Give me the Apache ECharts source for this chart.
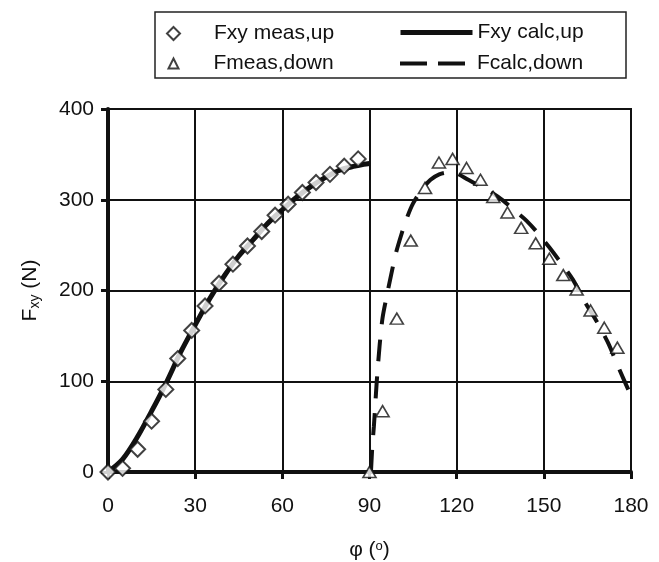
<!DOCTYPE html>
<html>
<head>
<meta charset="utf-8">
<script src="https://cdn.jsdelivr.net/npm/echarts@6/dist/echarts.min.js"></script>
<style>html,body{margin:0;padding:0;background:#fff;}#c{width:659px;height:562px;}</style>
</head>
<body>
<div id="c"></div>
<script>
// Measured (up)
const measUpX = [0, 5, 10.2, 15, 19.9, 24, 28.8, 33.4, 38.2, 43, 48, 52.9, 57.5, 62, 66.9, 71.6, 76.4, 81.3, 86.1];
const measUpY = [0, 4, 25, 56, 91, 125, 156, 183, 208, 229, 249, 265, 283, 295, 308, 319, 328, 337, 345];
// Calculated (up)
const calcUpX = [0, 5, 10, 15, 20, 25, 30, 35, 40, 45, 50, 55, 60, 65, 70, 75, 80, 85, 88, 90];
const calcUpY = [0, 14, 38, 67, 98, 132, 162, 191, 216, 238, 256, 274, 289, 303, 315, 325, 333, 337, 339, 340];
// Measured (down)
const measDownX = [90, 94.5, 99.4, 104.2, 109.1, 113.9, 118.6, 123.4, 128.2, 132.6, 137.5, 142.2, 147.2, 151.9, 156.7, 161.3, 166.1, 170.8, 175.3];
const measDownY = [0, 67, 169, 255, 313, 341, 345, 335, 322, 303, 286, 269, 252, 235, 217, 201, 178, 159, 137];
// Calculated (down)
const calcDownX = [90.5, 91, 91.5, 92, 92.5, 93.5, 94.5, 96, 97.5, 99, 101, 103, 105, 108, 111, 114, 117, 120, 124, 128, 132, 136, 140, 144, 148, 152, 156, 160, 164, 168, 172, 176, 180];
const calcDownY = [0, 30, 50, 75, 100, 140, 170, 195, 218, 240, 262, 281, 296, 311, 322, 328, 330, 329, 322, 315, 308, 299, 288, 277, 263, 247, 230, 212, 188, 167, 143, 113, 84];

const names = ['Fxy meas,up', 'Fxy calc,up', 'Fmeas,down', 'Fcalc,down'];
const xMin = 0, xMax = 180, xStep = 30;
const yMin = 0, yMax = 400, yStep = 100;

const zip = (a, b) => a.map((v, i) => [v, b[i]]);
const FONT = '"Liberation Sans", Arial, sans-serif';
const INK = '#111';

const chart = echarts.init(document.getElementById('c'), null, {renderer: 'canvas'});

function legendAt(name, left, top, w, h, extra) {
  return Object.assign({
    data: [name], left: left, top: top, padding: 0,
    itemWidth: w, itemHeight: h, selectedMode: false,
    textStyle: {fontSize: 21, fontFamily: FONT, color: INK}
  }, extra || {});
}

chart.setOption({
  animation: false,
  backgroundColor: '#fff',
  graphic: [{
    type: 'rect', shape: {x: 155, y: 12, width: 471, height: 66},
    style: {fill: 'none', stroke: '#222', lineWidth: 1.5}, z: 10
  }],
  legend: [
    legendAt(names[0], 166, 23, 13, 13, {textStyle: {fontSize: 21, fontFamily: FONT, color: INK, padding: [0, 0, 0, 29]}}),
    legendAt(names[1], 398, 22, 72, 14, {lineStyle: {width: 5}, itemStyle: {opacity: 0}}),
    legendAt(names[2], 167.5, 53, 10, 10, {textStyle: {fontSize: 21, fontFamily: FONT, color: INK, padding: [0, 0, 0, 30]}}),
    legendAt(names[3], 398, 53, 72, 14, {lineStyle: {width: 4, type: [27, 11]}, itemStyle: {opacity: 0}})
  ],
  grid: {left: 108, right: 28, top: 109, bottom: 90, show: true, borderColor: INK, borderWidth: 2,
         containLabel: false, outerBoundsMode: 'none'},
  xAxis: {
    type: 'value', min: xMin, max: xMax, interval: xStep,
    name: '{f|φ (}{p|o}{f|)}', nameLocation: 'middle', nameGap: 68,
    nameTextStyle: {rich: {
      f: {fontSize: 21, fontFamily: FONT, color: INK},
      p: {fontSize: 13, fontFamily: FONT, color: INK, verticalAlign: 'top', lineHeight: 10}
    }},
    axisLine: {show: true, onZero: false, lineStyle: {color: INK, width: 4}},
    axisTick: {show: true, inside: false, length: 7, lineStyle: {color: INK, width: 3}},
    axisLabel: {fontSize: 21, fontFamily: FONT, color: INK, margin: 24},
    splitLine: {show: true, lineStyle: {color: INK, width: 2}}
  },
  yAxis: {
    type: 'value', min: yMin, max: yMax, interval: yStep,
    name: '{f|F}{s|xy}{f| (N)}', nameLocation: 'middle', nameGap: 66, nameRotate: 90,
    nameTextStyle: {rich: {
      f: {fontSize: 21, fontFamily: FONT, color: INK, lineHeight: 24},
      s: {fontSize: 14, fontFamily: FONT, color: INK, verticalAlign: 'bottom', lineHeight: 11}
    }},
    axisLine: {show: true, lineStyle: {color: INK, width: 4}},
    axisTick: {show: true, inside: false, length: 7, lineStyle: {color: INK, width: 3}},
    axisLabel: {fontSize: 21, fontFamily: FONT, color: INK, margin: 14},
    splitLine: {show: true, lineStyle: {color: INK, width: 2}}
  },
  series: [
    {
      name: names[1], type: 'line', data: zip(calcUpX, calcUpY), showSymbol: false, symbol: 'none',
      smooth: 0.3, lineStyle: {color: INK, width: 5}, itemStyle: {color: INK}, z: 3
    },
    {
      name: names[3], type: 'line', data: zip(calcDownX, calcDownY), showSymbol: false, symbol: 'none',
      smooth: 0.3, lineStyle: {color: INK, width: 4, type: [22, 15]}, itemStyle: {color: INK}, z: 3
    },
    {
      name: names[0], type: 'scatter', data: zip(measUpX, measUpY), symbol: 'diamond', symbolSize: 15,
      itemStyle: {color: '#fff', borderColor: INK, borderWidth: 2}, z: 5
    },
    {
      name: names[2], type: 'scatter', data: zip(measDownX, measDownY), symbol: 'triangle', symbolSize: [13, 11],
      itemStyle: {color: '#fff', borderColor: INK, borderWidth: 1.6}, z: 5
    }
  ]
});
</script>
</body>
</html>
